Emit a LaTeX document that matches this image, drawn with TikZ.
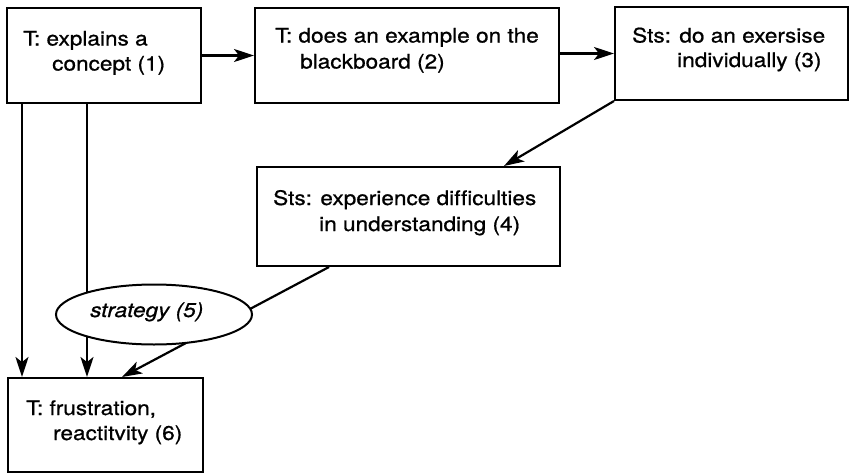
\documentclass[tikz,border=0pt]{standalone}
\usepackage{fontspec}
\setmainfont{TeX Gyre Heros}[FakeStretch=1.13,FakeBold=0.8,Ligatures=NoCommon]
\usetikzlibrary{arrows.meta,shapes.geometric,calc}
\tikzset{
  box/.style={draw, line width=2pt, rectangle, inner sep=0pt},
  txt/.style={anchor=base west, inner sep=0pt, font=\fontsize{20}{25}\selectfont},
  arr/.style={line width=2.2pt, -{Stealth[length=20pt,width=13pt,inset=5pt]}},
  oval/.style={draw, line width=2pt, ellipse, fill=white, inner sep=0pt}
}
\begin{document}
\begin{tikzpicture}[x=1pt,y=-1pt]
\useasboundingbox (0,0) rectangle (852,474);
% boxes
\node[box, minimum width=194pt, minimum height=95pt] (b1) at (104,55.5) {};
\node[box, minimum width=304pt, minimum height=95pt] (b2) at (407,55.5) {};
\node[box, minimum width=233pt, minimum height=93pt] (b3) at (731.5,53.5) {};
\node[box, minimum width=303pt, minimum height=99pt] (b4) at (408.5,216.5) {};
\node[box, minimum width=195pt, minimum height=94pt] (b6) at (105.5,425) {};
% texts
\node[txt] (t1a) at (23,45.5) {T: explains a};
\node[txt] (t1b) at (52,70.5) {concept (1)};
\node[txt] (t2a) at (275,42.5) {T: does an example on the};
\node[txt] (t2b) at (300,68.5) {blackboard (2)};
\node[txt] (t3a) at (632,42.5) {Sts: do an exersise};
\node[txt] (t3b) at (677,67) {individually (3)};
\node[txt] (t4a) at (273,205) {Sts: experience difficulties};
\node[txt] (t4b) at (319,231) {in understanding (4)};
\node[txt] (t6a) at (26,415) {T: frustration,};
\node[txt] (t6b) at (53,440) {reactitvity (6)};
% connectors
\draw[arr] (b1.east) -- (b2.west);
\draw[arr] (b2.east |- b3.west) -- (b3.west);
\draw[arr] (b3.south west) -- ([xshift=248pt]b4.north west);
\draw[arr] ([xshift=16pt]b1.south west) -- ([xshift=15pt]b6.north west);
\draw[arr] ([xshift=81pt]b1.south west) -- ([xshift=80pt]b6.north west);
\draw[arr] ([xshift=73pt]b4.south west) -- ([xshift=115pt]b6.north west);
% ellipse on top
\node[oval, minimum width=196pt, minimum height=60pt] (e5) at (154,314.5) {};
\node[txt, font=\fontsize{20}{25}\selectfont\itshape] (t5) at (90,317) {strategy (5)};
\end{tikzpicture}
\end{document}
